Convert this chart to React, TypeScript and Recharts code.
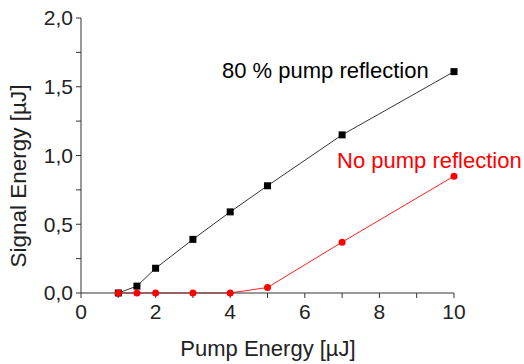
import React from 'react';
import { LineChart, Line, XAxis, YAxis, Customized } from 'recharts';

const pumpEnergy80 = [1, 1.5, 2, 3, 4, 5, 7, 10];
const signal80 = [0.0, 0.05, 0.18, 0.39, 0.59, 0.78, 1.15, 1.61];
const pumpEnergyNo = [1, 1.5, 2, 3, 4, 5, 7, 10];
const signalNo = [0.0, 0.0, 0.0, 0.0, 0.0, 0.04, 0.37, 0.85];
const xTicks = [0, 1, 2, 3, 4, 5, 6, 7, 8, 9, 10];
const yTicks = [0, 0.25, 0.5, 0.75, 1.0, 1.25, 1.5, 1.75, 2.0];

const data80 = pumpEnergy80.map((x, i) => ({ x, y: signal80[i] }));
const dataNo = pumpEnergyNo.map((x, i) => ({ x, y: signalNo[i] }));

const FONT = '"Liberation Sans", Arial, sans-serif';

const Square = (props: any) => {
  const { cx, cy } = props;
  if (cx == null || cy == null) return null;
  return <rect x={cx - 3.5} y={cy - 3.5} width={7} height={7} fill="#000" />;
};

const Dot = (props: any) => {
  const { cx, cy } = props;
  if (cx == null || cy == null) return null;
  return <circle cx={cx} cy={cy} r={3.5} fill="#ff0000" />;
};

const Annotations = () => (
  <g fontFamily={FONT}>
    <text x={222} y={78} fontSize={22} fill="#000">80 % pump reflection</text>
    <text x={337} y={168} fontSize={22} fill="#ff0000">No pump reflection</text>
    <text x={268} y={356} fontSize={22} fill="#222" textAnchor="middle">Pump Energy [µJ]</text>
    <text x={26} y={176} fontSize={22.5} fill="#222" textAnchor="middle" transform="rotate(-90 26 176)">Signal Energy [µJ]</text>
  </g>
);

export default function App() {
  return (
    <div style={{ position: 'absolute', left: 0, top: 0, background: '#fff' }}>
      <LineChart width={524} height={364} margin={{ top: 18, right: 70, bottom: 11, left: 21 }}>
        <XAxis
          type="number"
          dataKey="x"
          domain={[0, 10]}
          ticks={xTicks}
          interval={0}
          tickFormatter={(v: number) => (v % 2 === 0 ? String(v) : '')}
          height={60}
          tickSize={5}
          tickMargin={6}
          stroke="#333"
          tick={{ fill: '#222', fontSize: 21, fontFamily: FONT }}
          allowDuplicatedCategory={false}
        />
        <YAxis
          type="number"
          dataKey="y"
          domain={[0, 2]}
          ticks={yTicks}
          interval={0}
          tickFormatter={(v: number) => (Math.abs(v * 2 - Math.round(v * 2)) < 1e-9 ? v.toFixed(1).replace('.', ',') : '')}
          width={60}
          tickSize={5}
          tickMargin={3}
          stroke="#333"
          tick={{ fill: '#222', fontSize: 21, fontFamily: FONT }}
        />
        <Line data={data80} dataKey="y" stroke="#333" strokeWidth={1} dot={<Square />} isAnimationActive={false} />
        <Line data={dataNo} dataKey="y" stroke="#ff2020" strokeWidth={1} dot={<Dot />} isAnimationActive={false} />
        <Customized component={Annotations} />
      </LineChart>
    </div>
  );
}
